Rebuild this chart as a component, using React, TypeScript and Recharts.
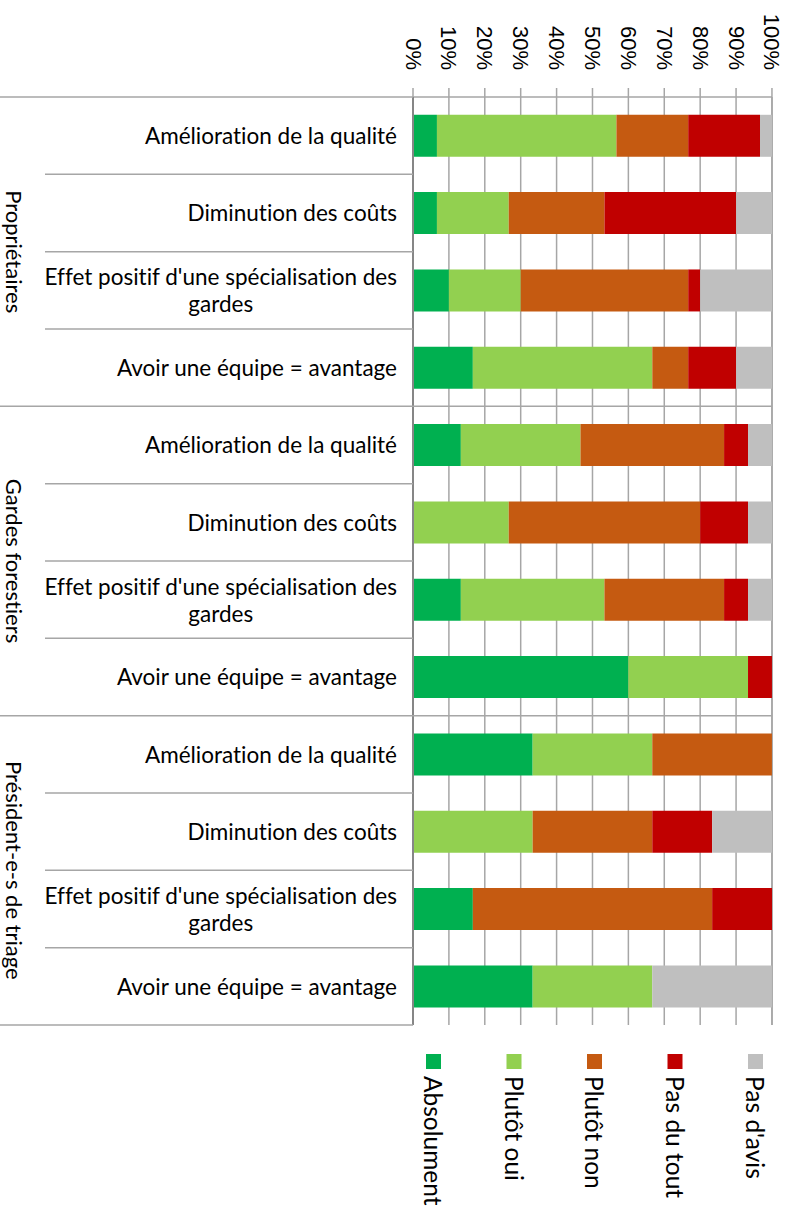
import { BarChart, Bar, XAxis, YAxis, CartesianGrid } from "recharts";

const categories = [
  "Amélioration de la qualité",
  "Diminution des coûts",
  "Effet positif d'une spécialisation des gardes",
  "Avoir une équipe = avantage",
  "Amélioration de la qualité",
  "Diminution des coûts",
  "Effet positif d'une spécialisation des gardes",
  "Avoir une équipe = avantage",
  "Amélioration de la qualité",
  "Diminution des coûts",
  "Effet positif d'une spécialisation des gardes",
  "Avoir une équipe = avantage",
];
const groups = ["Propriétaires", "Gardes forestiers", "Président-e-s de triage"];

// shares in %, one value per category row
const absolument = [6.67, 6.67, 10, 16.67, 13.33, 0, 13.33, 60, 33.33, 0, 16.67, 33.33];
const plutotOui = [50, 20, 20, 50, 33.33, 26.67, 40, 33.33, 33.33, 33.33, 0, 33.33];
const plutotNon = [20, 26.67, 46.67, 10, 40, 53.33, 33.33, 0, 33.33, 33.33, 66.67, 0];
const pasDuTout = [20, 36.67, 3.33, 13.33, 6.67, 13.33, 6.67, 6.67, 0, 16.67, 16.67, 0];
const pasDavis = [3.33, 10, 20, 10, 6.67, 6.67, 6.67, 0, 0, 16.67, 0, 33.33];

const percentTicks = [0, 10, 20, 30, 40, 50, 60, 70, 80, 90, 100];

const series = [
  { key: "absolument", name: "Absolument", color: "#00B050" },
  { key: "plutotOui", name: "Plutôt oui", color: "#92D050" },
  { key: "plutotNon", name: "Plutôt non", color: "#C55A11" },
  { key: "pasDuTout", name: "Pas du tout", color: "#C00000" },
  { key: "pasDavis", name: "Pas d'avis", color: "#BFBFBF" },
];

const data = categories.map((c, i) => ({
  key: String(i),
  name: c,
  absolument: absolument[i],
  plutotOui: plutotOui[i],
  plutotNon: plutotNon[i],
  pasDuTout: pasDuTout[i],
  pasDavis: pasDavis[i],
}));

// layout
const W = 794;
const H = 1211;
const PLOT_LEFT = 413;
const PLOT_RIGHT = 772;
const PLOT_TOP = 97;
const PLOT_BOTTOM = 1025;
const BAND = (PLOT_BOTTOM - PLOT_TOP) / categories.length;
const PER_GROUP = 4;
const GRID = "#a6a6a6";
const LABEL_FONT = "Lato, 'Open Sans', sans-serif";
const LABEL_SIZE = 22.5;
const noLig = { fontVariantLigatures: "none" } as const;

function wrap(label: string, max = 38) {
  const words = label.split(" ");
  const lines: string[] = [];
  let cur = "";
  for (const w of words) {
    if (cur && (cur + " " + w).length > max) {
      lines.push(cur);
      cur = w;
    } else {
      cur = cur ? cur + " " + w : w;
    }
  }
  if (cur) lines.push(cur);
  return lines;
}

function CategoryTick({ y, payload }: any) {
  const i = Number(payload.value);
  const top = y - BAND / 2;
  const groupStart = i % PER_GROUP === 0;
  const lines = wrap(categories[i]);
  return (
    <g>
      <line x1={groupStart ? 0 : 45} x2={PLOT_LEFT} y1={top} y2={top} stroke={GRID} strokeWidth={1.5} />
      {groupStart && i > 0 && (
        <line x1={PLOT_LEFT} x2={PLOT_RIGHT} y1={top} y2={top} stroke={GRID} strokeWidth={1.5} />
      )}
      {i === categories.length - 1 && (
        <line x1={0} x2={PLOT_LEFT} y1={top + BAND} y2={top + BAND} stroke={GRID} strokeWidth={1.5} />
      )}
      {groupStart && (
        <text
          transform={`translate(14, ${top + (PER_GROUP / 2) * BAND}) rotate(90)`}
          textAnchor="middle"
          dominantBaseline="central"
          fontFamily={LABEL_FONT}
          fontSize={22}
          fill="#000"
          style={noLig}
        >
          {groups[i / PER_GROUP]}
        </text>
      )}
      <foreignObject x={0} y={top} width={PLOT_LEFT - 16} height={BAND}>
        <div
          style={{
            height: BAND,
            display: "flex",
            alignItems: "center",
            justifyContent: "flex-end",
            fontFamily: LABEL_FONT,
            fontSize: LABEL_SIZE,
            lineHeight: "27px",
            color: "#000",
            ...noLig,
          }}
        >
          <div style={{ textAlign: "center", whiteSpace: "nowrap" }}>
            {lines.map((l, k) => (
              <div key={k}>{l}</div>
            ))}
          </div>
        </div>
      </foreignObject>
    </g>
  );
}

function PercentTick({ x, payload }: any) {
  return (
    <text
      transform={`translate(${x}, ${PLOT_TOP - 27}) rotate(90)`}
      textAnchor="end"
      dominantBaseline="central"
      fontFamily="'Liberation Sans', Arial, sans-serif"
      fontSize={22}
      fill="#000"
    >
      {payload.value}%
    </text>
  );
}

function RotatedLegend() {
  const step = 80.5;
  return (
    <svg width={W} height={H} style={{ position: "absolute", left: 0, top: 0, pointerEvents: "none" }}>
      {series.map((s, k) => {
        const cx = 433.5 + k * step;
        return (
          <g key={s.key}>
            <rect x={cx - 7.5} y={1054} width={15} height={15} fill={s.color} />
            <text
              transform={`translate(${cx}, 1076) rotate(90)`}
              textAnchor="start"
              dominantBaseline="central"
              fontFamily={LABEL_FONT}
              fontSize={24.5}
              fill="#000"
              style={noLig}
            >
              {s.name}
            </text>
          </g>
        );
      })}
    </svg>
  );
}

export default function App() {
  const xAxisHeight = 60;
  return (
    <div style={{ position: "absolute", left: 0, top: 0, width: W, height: H, background: "#fff" }}>
      <BarChart
        width={W}
        height={H}
        data={data}
        layout="vertical"
        barCategoryGap="23%"
        margin={{ top: PLOT_TOP - xAxisHeight, right: W - PLOT_RIGHT, bottom: H - PLOT_BOTTOM, left: 0 }}
      >
        <CartesianGrid horizontal={false} stroke={GRID} strokeWidth={1.5} />
        <XAxis
          type="number"
          orientation="top"
          domain={[0, 100]}
          ticks={percentTicks}
          interval={0}
          height={xAxisHeight}
          axisLine={{ stroke: GRID, strokeWidth: 1.5 }}
          tickLine={{ stroke: GRID, strokeWidth: 1.5 }}
          tickSize={9}
          tick={<PercentTick />}
        />
        <YAxis
          type="category"
          dataKey="key"
          width={PLOT_LEFT}
          interval={0}
          tickLine={false}
          tickSize={0}
          tickMargin={16}
          axisLine={{ stroke: "#868686", strokeWidth: 2 }}
          tick={<CategoryTick />}
        />
        {series.map((s) => (
          <Bar key={s.key} dataKey={s.key} name={s.name} stackId="a" fill={s.color} isAnimationActive={false} />
        ))}
      </BarChart>
      <RotatedLegend />
    </div>
  );
}
